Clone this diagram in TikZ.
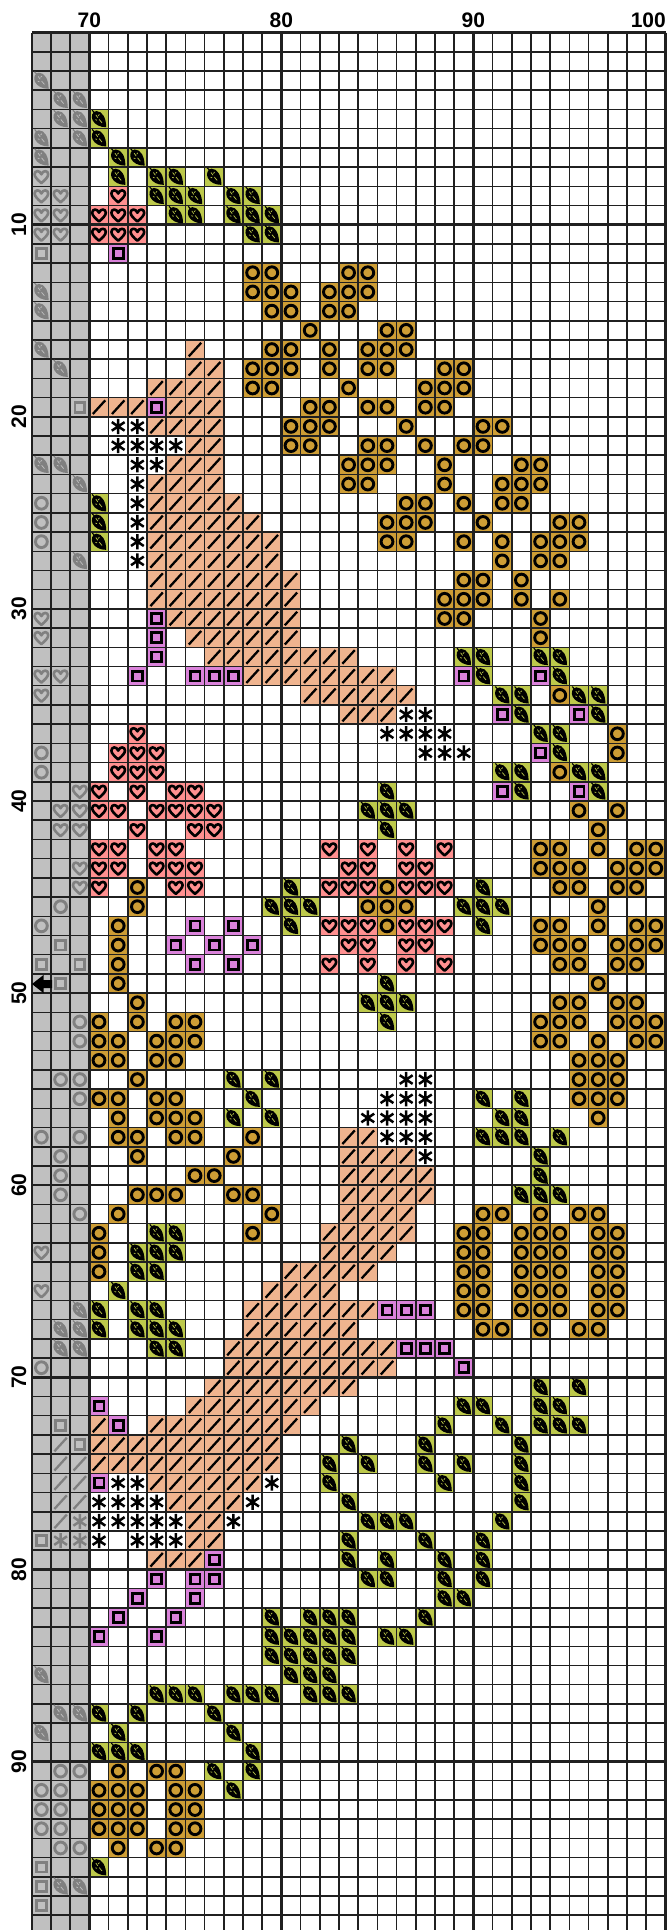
\documentclass[tikz,border=0pt]{standalone}
\usepackage{fontspec}
\setmainfont{Liberation Sans}
\definecolor{greybg}{HTML}{C0C0C0}
\definecolor{greysym}{HTML}{808080}
\definecolor{gridc}{HTML}{202020}
\definecolor{cL}{HTML}{BDC94B}
\definecolor{cH}{HTML}{FF9090}
\definecolor{cS}{HTML}{DA82DA}
\definecolor{cO}{HTML}{CD9D35}
\definecolor{cD}{HTML}{EFB48F}
\definecolor{cA}{HTML}{FFFFFF}
\colorlet{symc}{black}
\colorlet{spotc}{cL}
\tikzset{
  x=1pt,y=-1pt,
  thingrid/.style={draw=gridc,line width=1.5pt},
  thickgrid/.style={draw=gridc,line width=2.5pt},
  collabel/.style={font=\bfseries\fontsize{21}{22}\selectfont,inner sep=0pt},
  rowlabel/.style={collabel,rotate=90},
  symL/.pic={
    \fill[symc] (7.2,8.2) .. controls (7.2,-1) and (3.4,-8) .. (-2.6,-8)
      .. controls (-7.2,-7.6) and (-8,-2) .. (-6.4,1.2)
      .. controls (-4.2,5.6) and (1,8.2) .. (7.2,8.2) -- cycle;
    \draw[symc,line width=1.1pt] (-6.8,-8.8) -- (-3.5,-5);
    \draw[spotc,line width=.7pt] (-3.2,-4.2) -- (-1.2,-1.4) (.2,.4) -- (3,3.8) (-.8,-3.2) -- (.4,-4.6) (-3.6,.6) -- (-2,1.2);
  },
  symH/.pic={
    \draw[symc,line width=2.6pt,line join=round] (0,6.4) .. controls (-4,3) and (-6.8,.2) .. (-6.8,-2.4)
      .. controls (-6.8,-6.4) and (-1.6,-6.8) .. (0,-2.4)
      .. controls (1.6,-6.8) and (6.8,-6.4) .. (6.8,-2.4)
      .. controls (6.8,.2) and (4,3) .. (0,6.4) -- cycle;
  },
  symS/.pic={\draw[symc,line width=2.8pt] (-4.9,-4.9) rectangle (4.9,4.9);},
  symO/.pic={\draw[symc,line width=2.9pt] (0,0) circle[radius=5.9];},
  symD/.pic={\draw[symc,line width=2.3pt] (-6.2,6.8) -- (6.2,-6.8);},
  symA/.pic={\draw[symc,line width=2.5pt] (0,-7.6) -- (0,7.6) (-6.4,-4.3) -- (6.4,4.3) (-6.4,4.3) -- (6.4,-4.3);},
}
\makeatletter
\def\Cfill#1#2#3{\foreach \i in {#3}{%
  \ifnum\i<0 \else
    \pgfmathsetmacro\xa{89.4+19.2*\i}\pgfmathsetmacro\ya{32.6+19.21*(#1-1)}%
    \pgfmathsetmacro\xb{\xa+19.2}\pgfmathsetmacro\yb{\ya+19.21}%
    \fill[c#2] (\xa,\ya) rectangle (\xb,\yb);
  \fi}}
\def\Csym#1#2#3{\foreach \i in {#3}{%
  \ifnum\i<0 \colorlet{symc}{greysym}\colorlet{spotc}{greybg}\else
    \colorlet{symc}{black}\colorlet{spotc}{c#2}\fi
  \pgfmathsetmacro\cx{89.4+19.2*(\i+.5)}\pgfmathsetmacro\cy{32.6+19.21*(#1-.5)}%
  \pic at (\cx,\cy) {sym#2};}}
\makeatother
\def\chartdata{%
\C{3}{L}{-3}
\C{4}{L}{-2,-1}
\C{5}{L}{-2,-1,0}
\C{6}{L}{-3,-1,0}
\C{7}{L}{-3,1,2}
\C{8}{H}{-3}\C{8}{L}{1,3,4,6}
\C{9}{H}{-3,-2,1}\C{9}{L}{3,4,5,7,8}
\C{10}{H}{-3,-2,0,1,2}\C{10}{L}{4,5,7,8,9}
\C{11}{H}{-3,-2,0,1,2}\C{11}{L}{8,9}
\C{12}{S}{-3,1}
\C{13}{O}{8,9,13,14}
\C{14}{L}{-3}\C{14}{O}{8,9,10,12,13,14}
\C{15}{L}{-3}\C{15}{O}{9,10,12,13}
\C{16}{O}{11,15,16}
\C{17}{L}{-3}\C{17}{D}{5}\C{17}{O}{9,10,12,14,15,16}
\C{18}{L}{-2}\C{18}{D}{5,6}\C{18}{O}{8,9,10,12,14,15,18,19}
\C{19}{D}{3,4,5,6}\C{19}{O}{8,9,13,17,18,19}
\C{20}{S}{-1,3}\C{20}{D}{0,1,2,4,5,6}\C{20}{O}{11,12,14,15,17,18}
\C{21}{A}{1,2}\C{21}{D}{3,4,5,6}\C{21}{O}{10,11,12,16,20,21}
\C{22}{A}{1,2,3,4}\C{22}{D}{5,6}\C{22}{O}{10,11,14,15,17,19,20}
\C{23}{L}{-3,-2}\C{23}{A}{2,3}\C{23}{D}{4,5,6}\C{23}{O}{13,14,15,18,22,23}
\C{24}{L}{-1}\C{24}{A}{2}\C{24}{D}{3,4,5,6}\C{24}{O}{13,14,18,21,22,23}
\C{25}{O}{-3,16,17,19,21,22}\C{25}{L}{0}\C{25}{A}{2}\C{25}{D}{3,...,7}
\C{26}{O}{-3,15,16,17,20,24,25}\C{26}{L}{0}\C{26}{A}{2}\C{26}{D}{3,...,8}
\C{27}{O}{-3,15,16,19,21,23,24,25}\C{27}{L}{0}\C{27}{A}{2}\C{27}{D}{3,...,9}
\C{28}{L}{-1}\C{28}{A}{2}\C{28}{D}{3,...,9}\C{28}{O}{21,23,24}
\C{29}{D}{3,...,10}\C{29}{O}{19,20,22}
\C{30}{D}{3,...,10}\C{30}{O}{18,19,20,22,24}
\C{31}{H}{-3}\C{31}{S}{3}\C{31}{D}{4,...,10}\C{31}{O}{18,19,23}
\C{32}{H}{-3}\C{32}{S}{3}\C{32}{D}{5,...,10}\C{32}{O}{23}
\C{33}{S}{3}\C{33}{D}{6,...,13}\C{33}{L}{19,20,23,24}
\C{34}{H}{-3,-2}\C{34}{S}{2,5,6,7,19,23}\C{34}{D}{8,...,15}\C{34}{L}{20,24}
\C{35}{H}{-3}\C{35}{D}{11,...,16}\C{35}{L}{21,22,25,26}\C{35}{O}{24}
\C{36}{D}{13,14,15}\C{36}{A}{16,17}\C{36}{S}{21,25}\C{36}{L}{22,26}
\C{37}{H}{2}\C{37}{A}{15,16,17,18}\C{37}{L}{23,24}\C{37}{O}{27}
\C{38}{O}{-3,27}\C{38}{H}{1,2,3}\C{38}{A}{17,18,19}\C{38}{S}{23}\C{38}{L}{24}
\C{39}{O}{-3,24}\C{39}{H}{1,2,3}\C{39}{L}{21,22,25,26}
\C{40}{H}{-1,0,2,4,5}\C{40}{L}{15,22,26}\C{40}{S}{21,25}
\C{41}{H}{-2,-1,0,1,3,4,5,6}\C{41}{L}{14,15,16}\C{41}{O}{25,27}
\C{42}{H}{-2,-1,2,5,6}\C{42}{L}{15}\C{42}{O}{26}
\C{43}{H}{0,1,3,4,12,14,16,18}\C{43}{O}{23,24,26,28,29}
\C{44}{H}{-1,0,1,3,4,5,13,14,16,17}\C{44}{O}{23,24,25,27,28,29}
\C{45}{H}{-1,0,4,5,12,13,14,16,17,18}\C{45}{O}{2,15,24,25,27,28}\C{45}{L}{10,20}
\C{46}{O}{-2,2,14,15,16,26}\C{46}{L}{9,10,11,19,20,21}
\C{47}{O}{-3,1,15,23,24,26,28,29}\C{47}{S}{5,7}\C{47}{L}{10,20}\C{47}{H}{12,13,14,16,17,18}
\C{48}{S}{-2,4,6,8}\C{48}{O}{1,23,24,25,27,28,29}\C{48}{H}{13,14,16,17}
\C{49}{S}{-3,-1,5,7}\C{49}{O}{1,24,25,27,28}\C{49}{H}{12,14,16,18}
\C{50}{S}{-2}\C{50}{O}{1,26}\C{50}{L}{15}
\C{51}{O}{2,24,25,27,28}\C{51}{L}{14,15,16}
\C{52}{O}{-1,0,2,4,5,23,24,25,27,28,29}\C{52}{L}{15}
\C{53}{O}{-1,0,1,3,4,5,23,24,26,28,29}
\C{54}{O}{0,1,3,4,25,26,27}
\C{55}{O}{-2,-1,2,25,26,27}\C{55}{L}{7,9}\C{55}{A}{16,17}
\C{56}{O}{-1,0,1,3,4,25,26,27}\C{56}{L}{8,20,22}\C{56}{A}{15,16,17}
\C{57}{O}{1,3,4,5,26}\C{57}{L}{7,9,21,22}\C{57}{A}{14,15,16,17}
\C{58}{O}{-3,-1,1,2,4,5,8}\C{58}{D}{13,14}\C{58}{A}{15,16,17}\C{58}{L}{20,21,22,24}
\C{59}{O}{-2,2,7}\C{59}{D}{13,14,15,16}\C{59}{A}{17}\C{59}{L}{23}
\C{60}{O}{-2,5,6}\C{60}{D}{13,...,17}\C{60}{L}{23}
\C{61}{O}{-2,2,3,4,7,8}\C{61}{D}{13,...,17}\C{61}{L}{22,23,24}
\C{62}{O}{-1,1,9,20,21,23,25,26}\C{62}{D}{13,...,16}
\C{63}{O}{0,8,19,20,22,23,24,26,27}\C{63}{L}{3,4}\C{63}{D}{12,...,16}
\C{64}{H}{-3}\C{64}{O}{0,19,20,22,23,24,26,27}\C{64}{L}{2,3,4}\C{64}{D}{12,...,15}
\C{65}{O}{0,19,20,22,23,24,26,27}\C{65}{L}{2,3}\C{65}{D}{10,...,14}
\C{66}{H}{-3}\C{66}{L}{1}\C{66}{D}{9,...,12}\C{66}{O}{19,20,22,23,24,26,27}
\C{67}{L}{-1,0,2,3}\C{67}{D}{8,...,14}\C{67}{S}{15,16,17}\C{67}{O}{19,20,22,23,24,26,27}
\C{68}{L}{-2,-1,0,2,3,4}\C{68}{D}{8,...,13}\C{68}{O}{20,21,23,25,26}
\C{69}{L}{-2,-1,3,4}\C{69}{D}{7,...,15}\C{69}{S}{16,17,18}
\C{70}{O}{-3}\C{70}{D}{7,...,15}\C{70}{S}{19}
\C{71}{D}{6,...,13}\C{71}{L}{23,25}
\C{72}{S}{0}\C{72}{D}{5,...,11}\C{72}{L}{19,20,23,24}
\C{73}{S}{-2,1}\C{73}{D}{0,3,4,5,6,7,8,9,10}\C{73}{L}{18,21,23,24,25}
\C{74}{D}{-2,0,1,2,3,4,5,6,7,8,9}\C{74}{S}{-1}\C{74}{L}{13,17,22}
\C{75}{D}{-2,-1,0,1,2,3,4,5,6,7,8,9}\C{75}{L}{12,14,17,19,22}
\C{76}{D}{-2,-1,3,4,5,6,7,8}\C{76}{S}{0}\C{76}{A}{1,2,9}\C{76}{L}{12,18,22}
\C{77}{D}{-2,-1,4,5,6,7}\C{77}{A}{0,1,2,3,8}\C{77}{L}{13,22}
\C{78}{D}{-2,5,6}\C{78}{A}{-1,0,1,2,3,4,7}\C{78}{L}{14,15,16,21}
\C{79}{S}{-3}\C{79}{A}{-2,-1,0,2,3,4}\C{79}{D}{5,6}\C{79}{L}{13,17,20}
\C{80}{D}{3,4,5}\C{80}{S}{6}\C{80}{L}{13,15,18,20}
\C{81}{S}{3,5,6}\C{81}{L}{14,15,18,20}
\C{82}{S}{2,5}\C{82}{L}{18,19}
\C{83}{S}{1,4}\C{83}{L}{9,11,12,13,17}
\C{84}{S}{0,3}\C{84}{L}{9,10,11,12,13,15,16}
\C{85}{L}{9,10,11,12,13}
\C{86}{L}{-3,10,11,12}
\C{87}{L}{3,4,5,7,8,9,11,12,13}
\C{88}{L}{-2,-1,0,2,6}
\C{89}{L}{-3,1,7}
\C{90}{L}{0,1,2,8}
\C{91}{O}{-2,-1,1,3,4}\C{91}{L}{6,8}
\C{92}{O}{-3,-2,0,1,2,4,5}\C{92}{L}{7}
\C{93}{O}{-3,-2,0,1,2,4,5}
\C{94}{O}{-3,-2,0,1,2,4,5}
\C{95}{O}{-2,-1,1,3,4}
\C{96}{S}{-3}\C{96}{L}{0}
\C{97}{S}{-3}\C{97}{L}{-2,-1}
\C{98}{S}{-3}
}
\begin{document}
\begin{tikzpicture}
\useasboundingbox (0,0) rectangle (668,1930);
\fill[white] (0,0) rectangle (668,1930);
\fill[greybg] (32,32.6) rectangle (89.4,1930);
\let\C\Cfill
\chartdata
% grid
\foreach \n in {-3,...,30}{\pgfmathsetmacro\gx{89.4+19.2*\n}\draw[thingrid] (\gx,32.6) -- (\gx,1930);}
\foreach \n in {0,...,98}{\pgfmathsetmacro\gy{32.6+19.21*\n}\draw[thingrid] (32,\gy) -- (666,\gy);}
\foreach \n in {0,10,20,30}{\pgfmathsetmacro\gx{89.4+19.2*\n}\draw[thickgrid] (\gx,32.6) -- (\gx,1930);}
\foreach \n in {0,10,...,90}{\pgfmathsetmacro\gy{32.6+19.21*\n}\draw[thickgrid] (32,\gy) -- (666,\gy);}
\let\C\Csym
\chartdata
% axis labels
\node[collabel] (c70) at (89.4,20) {70};
\node[collabel] (c80) at (281.4,20) {80};
\node[collabel] (c90) at (473.4,20) {90};
\node[collabel,anchor=east] (c100) at (666,20) {100};
\foreach \n in {10,20,...,90}{\pgfmathsetmacro\gy{32.6+19.21*\n}\node[rowlabel] (r\n) at (19,\gy) {\n};}
% marker arrow
\fill[black] (32,984) -- (43.5,975) -- (43.5,980) -- (52,980) -- (52,988) -- (43.5,988) -- (43.5,993) -- cycle;
\end{tikzpicture}
\end{document}
